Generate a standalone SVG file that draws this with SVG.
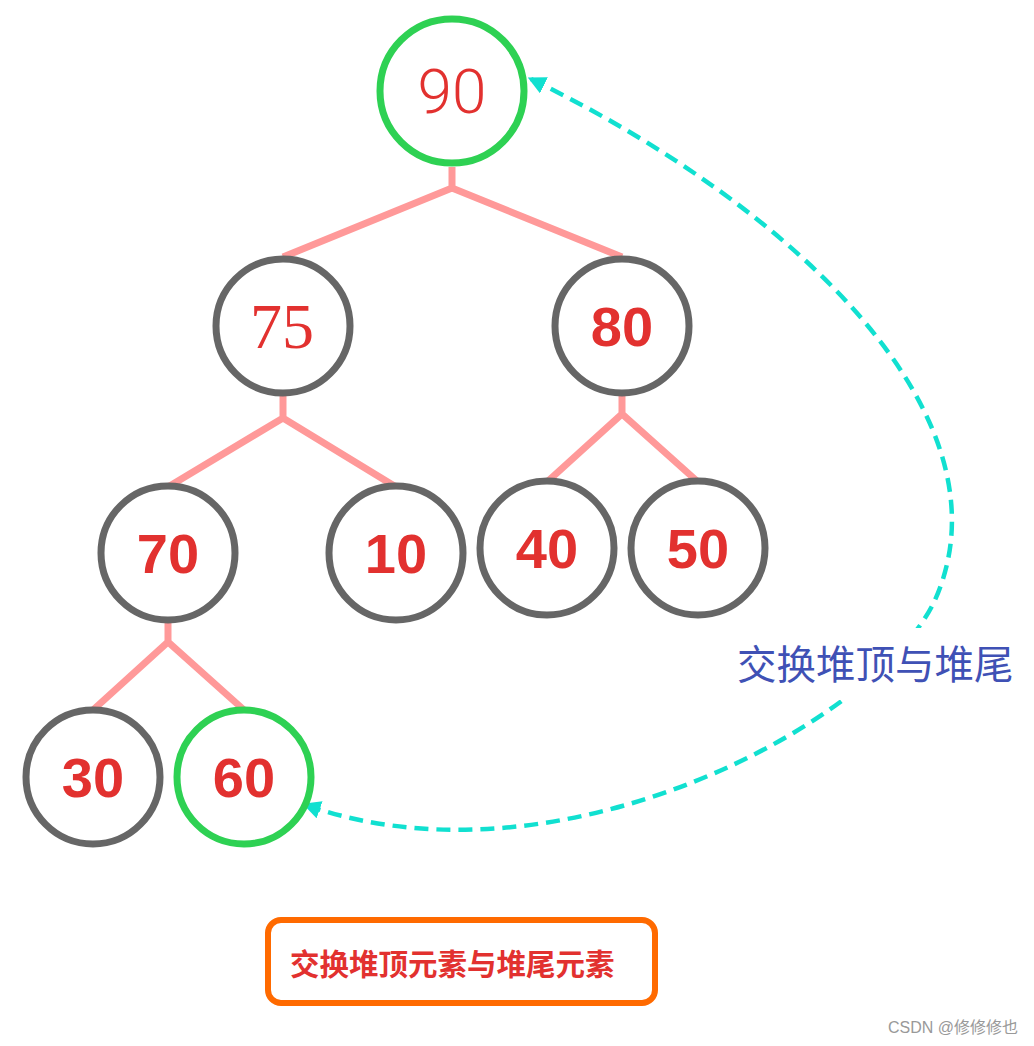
<svg xmlns="http://www.w3.org/2000/svg" width="1034" height="1046" viewBox="0 0 1034 1046">
<defs>
<style>
.n{fill:#fff;stroke:#666;stroke-width:7}
.g{stroke:#2ed153}
.e{fill:none;stroke:#ff9999;stroke-width:7}
.t{fill:#e2312f;font-family:"Liberation Sans",Arial,sans-serif;font-weight:bold;font-size:56px;text-anchor:middle}
</style>
<marker id="ah" viewBox="0 0 10 10" refX="8" refY="5" markerWidth="18" markerHeight="18" markerUnits="userSpaceOnUse" orient="auto-start-reverse">
<path d="M0,0 L10,5 L0,10 z" fill="#11e0d0"/>
</marker>
</defs>
<rect width="1034" height="1046" fill="#fff"/>
<g id="connectors">
<path class="e" d="M452 167 V188 M283 257 L452 188 L622 257"/>
<path class="e" d="M283 396 V418 M168 487 L283 418 L396 487"/>
<path class="e" d="M622 394 V414 M547 482 L622 414 L698 482"/>
<path class="e" d="M168 620 V642 M93 710 L168 642 L244 710"/>
<path d="M531 79 C800 210 1015 420 935 600 C880 720 560 895 306 805" fill="none" stroke="#11e0d0" stroke-width="4.5" stroke-dasharray="14 8" marker-start="url(#ah)" marker-end="url(#ah)"/>
<rect x="730" y="628" width="295" height="72" fill="#fff"/>
<text x="737" y="679" font-family="'Noto Sans CJK SC',sans-serif" font-size="39.5" fill="#3f51b5">交换堆顶与堆尾</text>
</g>
<g id="n90"><circle class="n g" cx="452" cy="91" r="72"/><text x="452" y="113" fill="#e2312f" font-family="Roboto,sans-serif" font-weight="300" font-size="62" text-anchor="middle">90</text></g>
<g id="n75"><circle class="n" cx="283" cy="326" r="67"/><text x="282" y="348" fill="#e2312f" font-family="'Liberation Serif',serif" font-size="64" text-anchor="middle">75</text></g>
<g id="n80"><circle class="n" cx="622" cy="326" r="67"/><text class="t" x="622" y="346">80</text></g>
<g id="n70"><circle class="n" cx="168" cy="553" r="67"/><text class="t" x="168" y="573">70</text></g>
<g id="n10"><circle class="n" cx="396" cy="553" r="67"/><text class="t" x="396" y="573">10</text></g>
<g id="n40"><circle class="n" cx="547" cy="548" r="67"/><text class="t" x="547" y="568">40</text></g>
<g id="n50"><circle class="n" cx="698" cy="548" r="67"/><text class="t" x="698" y="568">50</text></g>
<g id="n30"><circle class="n" cx="93" cy="777" r="67"/><text class="t" x="93" y="797">30</text></g>
<g id="n60"><circle class="n g" cx="244" cy="777" r="67"/><text class="t" x="244" y="797">60</text></g>
<g id="caption"><rect x="268" y="920" width="387" height="83" rx="13" fill="#fff" stroke="#ff6a00" stroke-width="6"/><text x="290" y="975" font-family="'Noto Sans CJK SC',sans-serif" font-weight="bold" font-size="29.5" fill="#e2312f">交换堆顶元素与堆尾元素</text></g>
<text x="1018" y="1033" text-anchor="end" font-family="'Liberation Sans','Noto Sans CJK SC',sans-serif" font-size="16" fill="#999">CSDN @修修修也</text>
</svg>
